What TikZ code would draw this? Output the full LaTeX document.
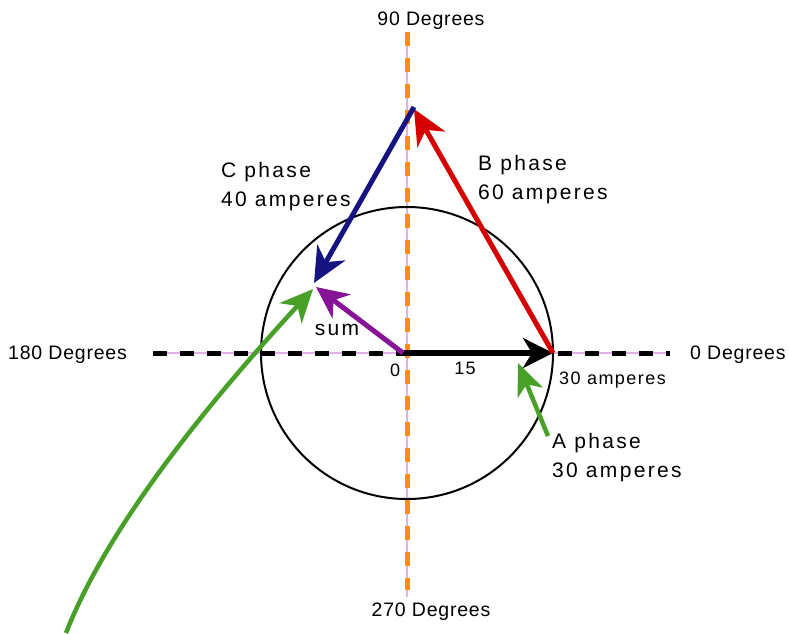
\documentclass[tikz,border=0pt]{standalone}
\usepackage{fontspec}
\setmainfont{Liberation Sans}
\usetikzlibrary{arrows.meta}
\definecolor{redph}{RGB}{214,0,0}
\definecolor{navyph}{RGB}{22,20,128}
\definecolor{purpph}{RGB}{135,20,150}
\definecolor{greenph}{RGB}{72,160,40}
\definecolor{orangeax}{RGB}{255,140,30}
\definecolor{pinkax}{RGB}{228,175,232}
\tikzset{
  x=1pt, y=-1pt,
  bigtip/.style={-{Stealth[length=35pt,width=32pt,inset=11pt]}},
  phasor/.style={line width=5pt, bigtip},
  biglabel/.style={anchor=north west, inner sep=0pt, align=left,
    font=\fontsize{21}{29.5}\selectfont\addfontfeature{LetterSpace=11}},
  smalllabel/.style={inner sep=0pt, font=\fontsize{19.5}{22}\selectfont\addfontfeature{LetterSpace=4}},
  ticklabel/.style={inner sep=0pt, font=\fontsize{18}{22}\selectfont\addfontfeature{LetterSpace=8}},
  axisthin/.style={draw=pinkax, line width=1.2pt},
  blackdash/.style={line width=5pt, dash pattern=on 14pt off 13pt},
  orangedash/.style={draw=orangeax, line width=5pt, dash pattern=on 14pt off 12pt},
}
\begin{document}
\begin{tikzpicture}
\useasboundingbox (0,0) rectangle (789,633);
% coordinates
\coordinate (O) at (407,353);
\coordinate (Ostart) at (403,353);
\coordinate (HL) at (153,353);
\coordinate (HR) at (670,353);
\coordinate (VT) at (407,32);
\coordinate (VB) at (407,597);
\coordinate (VBo) at (407,590);
\coordinate (Atip) at (553,353);
\coordinate (Btip) at (414,109);
\coordinate (Cstart) at (414,107);
\coordinate (Ctip) at (314,283);
\coordinate (Stip) at (316,287);
\coordinate (GAstart) at (548,436);
\coordinate (GAtip) at (518,363);
\coordinate (GCstart) at (66,633);
\coordinate (GCtip) at (313,289);
% thin axes
\draw[axisthin] (HL) -- (HR);
\draw[axisthin] (VT) -- (VB);
% dashed axes
\draw[blackdash] (HL) -- (HR);
\draw[orangedash] (VT) -- (VBo);
% circle
\node[draw, line width=2pt, circle, minimum size=292pt, inner sep=0pt] (circ) at (O) {};
% phasors
\draw[line width=6pt, black, -{Stealth[length=30pt,width=30pt,inset=9pt]}] (Ostart) -- (Atip);
\draw[phasor, redph] (Atip) -- (Btip);
\draw[phasor, navyph] (Cstart) -- (Ctip);
\draw[phasor, purpph, -{Stealth[length=32pt,width=30pt,inset=10pt]}] (Ostart) -- (Stip);
% green pointers
\draw[greenph, line width=4.5pt, -{Stealth[length=32pt,width=27pt,inset=9pt]}] (GAstart) -- (GAtip);
\draw[greenph, line width=4.5pt, -{Stealth[length=33pt,width=30pt,inset=10pt]}] (GCstart) .. controls (110,520) and (220,390) .. (GCtip);
% labels
\node[smalllabel] (l90) at (431,21) {90 Degrees};
\node[smalllabel] (l270) at (431,612) {270 Degrees};
\node[smalllabel, anchor=west] (l180) at (8,355) {180 Degrees};
\node[smalllabel, anchor=west] (l0) at (690,355) {0 Degrees};
\node[biglabel] (lC) at (221,162) {C phase\\40 amperes};
\node[biglabel] (lB) at (478,155) {B phase\\60 amperes};
\node[biglabel] (lA) at (552,433) {A phase\\30 amperes};
\node[biglabel, anchor=center] (lsum) at (337,330) {sum};
\node[ticklabel] (lzero) at (395,370) {0};
\node[ticklabel] (l15) at (465,368) {15};
\node[ticklabel, anchor=west] (l30) at (559,380) {30 amperes};
\end{tikzpicture}
\end{document}
